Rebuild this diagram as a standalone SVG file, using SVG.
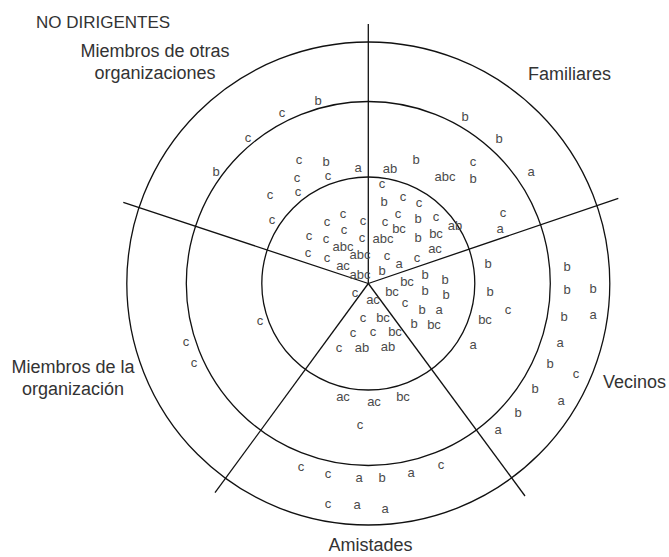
<svg xmlns="http://www.w3.org/2000/svg" width="669" height="557" viewBox="0 0 669 557">
<style>
.ring{fill:none;stroke:#111;stroke-width:1.3}
.ray{stroke:#111;stroke-width:1.3}
.lbl{font-family:"Liberation Sans",Arial,sans-serif;font-size:18px;fill:#333}
.t{font-family:"Liberation Sans",Arial,sans-serif;font-size:13px;fill:#4a4a4a;text-anchor:middle}
</style>
<rect width="669" height="557" fill="#fff"/>
<g id="rings">
<circle class="ring" cx="368.3" cy="283.5" r="106.5"/>
<circle class="ring" cx="368.3" cy="283.5" r="182"/>
<circle class="ring" cx="368.3" cy="283.5" r="241.5"/>
</g>
<g id="connectors">
<line class="ray" x1="368.3" y1="283.5" x2="368.3" y2="24"/>
<line class="ray" x1="368.3" y1="283.5" x2="123.3" y2="202.3"/>
<line class="ray" x1="368.3" y1="283.5" x2="618.3" y2="198.3"/>
<line class="ray" x1="368.3" y1="283.5" x2="215" y2="492.7"/>
<line class="ray" x1="368.3" y1="283.5" x2="525" y2="496"/>
</g>
<g id="labels">
<text class="lbl" x="36" y="28.3" style="font-size:17px">NO DIRIGENTES</text>
<g id="otras"><text class="lbl" x="155" y="57" text-anchor="middle">Miembros de otras</text>
<text class="lbl" x="155" y="79" text-anchor="middle">organizaciones</text></g>
<g id="familiares"><text class="lbl" x="528" y="80">Familiares</text></g>
<g id="vecinos"><text class="lbl" x="603" y="388">Vecinos</text></g>
<g id="organizacion"><text class="lbl" x="73" y="373" text-anchor="middle">Miembros de la</text>
<text class="lbl" x="73" y="395" text-anchor="middle">organización</text></g>
<g id="amistades"><text class="lbl" x="370.5" y="551" text-anchor="middle">Amistades</text></g>
</g>
<g id="sector-otras">
<text class="t" x="318" y="105">b</text><text class="t" x="282" y="117">c</text><text class="t" x="248" y="142">c</text><text class="t" x="216" y="176">b</text>
<text class="t" x="299" y="164">c</text><text class="t" x="326" y="166">b</text><text class="t" x="358" y="172">a</text>
<text class="t" x="297" y="182">c</text><text class="t" x="328" y="180">c</text><text class="t" x="298" y="196">c</text>
<text class="t" x="270" y="199">c</text><text class="t" x="272" y="224">c</text>
<text class="t" x="343" y="218">c</text><text class="t" x="327" y="226">c</text><text class="t" x="363" y="225">c</text>
<text class="t" x="309" y="240">c</text><text class="t" x="326" y="243">c</text><text class="t" x="344" y="234">c</text><text class="t" x="362" y="242">c</text>
<text class="t" x="343" y="251">abc</text><text class="t" x="360" y="259">abc</text>
<text class="t" x="308" y="257">c</text><text class="t" x="327" y="262">c</text><text class="t" x="343" y="270">ac</text><text class="t" x="360" y="279">abc</text>
</g>
<g id="sector-familiares">
<text class="t" x="465" y="121">b</text><text class="t" x="499" y="143">b</text><text class="t" x="531" y="176">a</text>
<text class="t" x="390" y="173">ab</text><text class="t" x="416" y="164">b</text><text class="t" x="445" y="181">abc</text>
<text class="t" x="473" y="166">c</text><text class="t" x="473" y="183">b</text><text class="t" x="503" y="217">c</text><text class="t" x="500" y="233">a</text>
<text class="t" x="382" y="188">c</text><text class="t" x="384" y="206">b</text><text class="t" x="403" y="201">c</text><text class="t" x="419" y="207">c</text>
<text class="t" x="398" y="218">c</text><text class="t" x="418" y="223">b</text><text class="t" x="436" y="221">c</text>
<text class="t" x="385" y="226">c</text><text class="t" x="399" y="233">bc</text><text class="t" x="455" y="230">ab</text>
<text class="t" x="383" y="243">abc</text><text class="t" x="418" y="242">b</text><text class="t" x="436" y="238">bc</text>
<text class="t" x="387" y="260">c</text><text class="t" x="399" y="268">a</text><text class="t" x="417" y="262">c</text><text class="t" x="435" y="253">ac</text>
<text class="t" x="382" y="275">b</text>
</g>
<g id="sector-vecinos">
<text class="t" x="407" y="286">bc</text><text class="t" x="425" y="279">b</text><text class="t" x="445" y="284">b</text>
<text class="t" x="392" y="296">bc</text><text class="t" x="425" y="295">b</text><text class="t" x="446" y="299">b</text>
<text class="t" x="405" y="307">c</text><text class="t" x="422" y="314">b</text><text class="t" x="439" y="314">a</text>
<text class="t" x="414" y="328">b</text><text class="t" x="434" y="329">bc</text>
<text class="t" x="488" y="268">b</text><text class="t" x="490" y="296">b</text><text class="t" x="508" y="314">c</text>
<text class="t" x="485" y="324">bc</text><text class="t" x="473" y="349">a</text>
<text class="t" x="567" y="271">b</text><text class="t" x="567" y="294">b</text><text class="t" x="593" y="293">b</text>
<text class="t" x="564" y="321">b</text><text class="t" x="593" y="319">a</text><text class="t" x="560" y="347">a</text>
<text class="t" x="550" y="368">b</text><text class="t" x="576" y="378">c</text><text class="t" x="535" y="393">b</text>
<text class="t" x="561" y="405">a</text><text class="t" x="518" y="417">b</text><text class="t" x="498" y="434">a</text>
</g>
<g id="sector-amistades">
<text class="t" x="373" y="304">ac</text><text class="t" x="363" y="322">c</text><text class="t" x="383" y="322">bc</text>
<text class="t" x="353" y="337">c</text><text class="t" x="373" y="336">c</text><text class="t" x="395" y="336">bc</text>
<text class="t" x="339" y="352">c</text><text class="t" x="362" y="352">ab</text><text class="t" x="388" y="351">ab</text>
<text class="t" x="343" y="401">ac</text><text class="t" x="374" y="406">ac</text><text class="t" x="403" y="401">bc</text>
<text class="t" x="360" y="429">c</text>
<text class="t" x="301" y="471">c</text><text class="t" x="328" y="478">c</text><text class="t" x="359" y="482">a</text>
<text class="t" x="382" y="482">b</text><text class="t" x="411" y="477">a</text><text class="t" x="441" y="469">c</text>
<text class="t" x="328" y="508">c</text><text class="t" x="357" y="509">a</text><text class="t" x="385" y="513">a</text>
</g>
<g id="sector-organizacion">
<text class="t" x="355" y="297">c</text><text class="t" x="260" y="325">c</text>
<text class="t" x="186" y="346">c</text><text class="t" x="194" y="367">c</text>
</g>
</svg>
